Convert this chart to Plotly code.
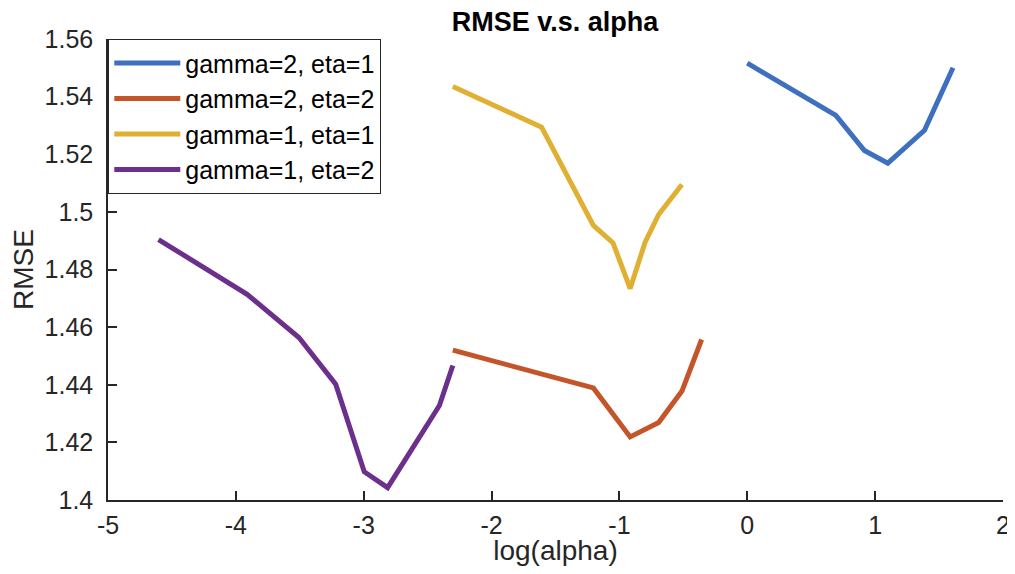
import plotly.graph_objects as go

# log(alpha) values and RMSE for each series
g2e1_x = [0.0, 0.693, 0.916, 1.099, 1.386, 1.609]
g2e1_y = [1.5516, 1.5335, 1.5213, 1.5169, 1.5283, 1.5500]

g2e2_x = [-2.303, -1.204, -0.916, -0.693, -0.511, -0.357]
g2e2_y = [1.4520, 1.4389, 1.4219, 1.4269, 1.4378, 1.4557]

g1e1_x = [-2.303, -1.609, -1.204, -1.050, -0.916, -0.799, -0.693, -0.511]
g1e1_y = [1.5435, 1.5294, 1.4953, 1.4892, 1.4734, 1.4895, 1.4991, 1.5095]

g1e2_x = [-4.605, -3.912, -3.507, -3.219, -2.996, -2.813, -2.408, -2.303]
g1e2_y = [1.4904, 1.4714, 1.4564, 1.4402, 1.4098, 1.4043, 1.4328, 1.4467]

names = ["gamma=2, eta=1", "gamma=2, eta=2", "gamma=1, eta=1", "gamma=1, eta=2"]
colors = ["#3F70BF", "#C4552A", "#E0B034", "#6C308C"]

x_ticks = [-5, -4, -3, -2, -1, 0, 1, 2]
x_tick_labels = ["-5", "-4", "-3", "-2", "-1", "0", "1", "2"]
y_ticks = [1.40, 1.42, 1.44, 1.46, 1.48, 1.50, 1.52, 1.54, 1.56]
y_tick_labels = ["1.4", "1.42", "1.44", "1.46", "1.48", "1.5", "1.52", "1.54", "1.56"]

series = [(g2e1_x, g2e1_y), (g2e2_x, g2e2_y), (g1e1_x, g1e1_y), (g1e2_x, g1e2_y)]

fig = go.Figure()
for (xs, ys), n, c in zip(series, names, colors):
    fig.add_trace(go.Scatter(x=xs, y=ys, mode="lines", name=n,
                             line=dict(color=c, width=5)))

FONT = "Liberation Sans, Arial, Helvetica"
tickfont = dict(family=FONT, size=25, color="#262626")
axcol = "#262626"

fig.update_layout(
    width=1003, height=558,
    margin=dict(l=100, r=8, t=31, b=66, autoexpand=False),
    paper_bgcolor="white", plot_bgcolor="white",
    title=dict(text="<b>RMSE v.s. alpha</b>", x=0.5454, xanchor="center",
               y=0.992, yanchor="top", pad=dict(t=0, b=0),
               font=dict(family=FONT, size=27, color="black")),
    showlegend=True,
    legend=dict(x=0, y=1, xanchor="left", yanchor="top",
                bgcolor="white", bordercolor="#262626", borderwidth=1.3,
                font=dict(family=FONT, size=25, color="black"),
                tracegroupgap=0, itemwidth=66),
    xaxis=dict(range=[-5, 2], tickvals=x_ticks, ticktext=x_tick_labels,
               showgrid=False, zeroline=False, showline=True, linecolor=axcol, linewidth=1.5,
               ticks="inside", ticklen=9, tickcolor=axcol, tickwidth=1.5,
               tickfont=tickfont, automargin=False, ticklabelstandoff=2,
               title=dict(text="log(alpha)", standoff=2,
                          font=dict(family=FONT, size=28, color="#262626"))),
    yaxis=dict(range=[1.4, 1.56], tickvals=y_ticks, ticktext=y_tick_labels,
               showgrid=False, zeroline=False, showline=True, linecolor=axcol, linewidth=1.5,
               ticks="inside", ticklen=9, tickcolor=axcol, tickwidth=1.5,
               tickfont=tickfont, automargin=False, ticklabelstandoff=8,
               title=dict(text="RMSE", standoff=8,
                          font=dict(family=FONT, size=28, color="#262626"))),
)

fig.write_html("out.html")
